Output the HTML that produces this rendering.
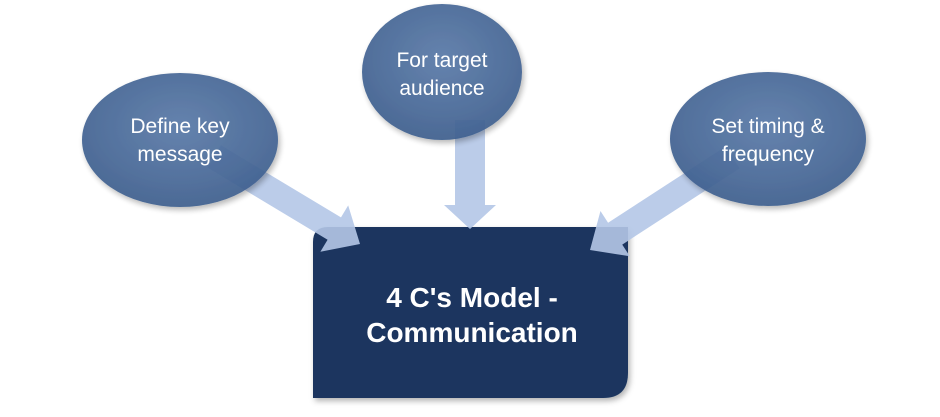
<!DOCTYPE html>
<html><head><style>
body{margin:0;background:#fff;width:940px;height:412px;overflow:hidden;}
</style></head><body>
<svg width="940" height="412" viewBox="0 0 940 412" xmlns="http://www.w3.org/2000/svg">
<defs>
<radialGradient id="g" cx="50%" cy="40%" r="60%">
<stop offset="0" stop-color="#5a7aa8"/><stop offset="1" stop-color="#3e5f8e"/>
</radialGradient>
<filter id="s" x="-10%" y="-10%" width="130%" height="130%"><feDropShadow dx="2" dy="3" stdDeviation="3" flood-color="#000" flood-opacity="0.3"/></filter>
</defs>
<!-- box -->
<path filter="url(#s)" d="M328,227 L628,227 L628,373 Q628,398 603,398 L313,398 L313,242 Q313,227 328,227 Z" fill="#1a365f"/>
<g font-family="Liberation Sans, sans-serif" font-size="28" font-weight="bold" fill="#fff" text-anchor="middle">
<text x="472" y="307">4 C's Model -</text><text x="472" y="342">Communication</text>
</g>
<!-- arrows -->
<g fill="#b4c7e7" opacity="0.9">
<path d="M455,120 L485,120 L485,205 L496,205 L470,229 L444,205 L455,205 Z"/>
<g transform="translate(360,244) rotate(31)"><path d="M0,0 L-30,-27 L-30,-13 L-170,-13 L-170,13 L-30,13 L-30,27 Z"/></g>
<g transform="translate(590,250) rotate(147)"><path d="M0,0 L-30,-27 L-30,-13 L-170,-13 L-170,13 L-30,13 L-30,27 Z"/></g>
</g>
<!-- ellipses -->
<g filter="url(#s)" fill="url(#g)" opacity="0.93">
<ellipse cx="180" cy="140" rx="98" ry="67"/>
<ellipse cx="442" cy="72" rx="80" ry="68"/>
<ellipse cx="768" cy="139" rx="98" ry="67"/>
</g>
<g font-family="Liberation Sans, sans-serif" font-size="21" fill="#fff" text-anchor="middle">
<text x="180" y="133">Define key</text><text x="180" y="161">message</text>
<text x="442" y="67">For target</text><text x="442" y="95">audience</text>
<text x="768" y="133">Set timing &amp;</text><text x="768" y="161">frequency</text>
</g>
</svg>
</body></html>
